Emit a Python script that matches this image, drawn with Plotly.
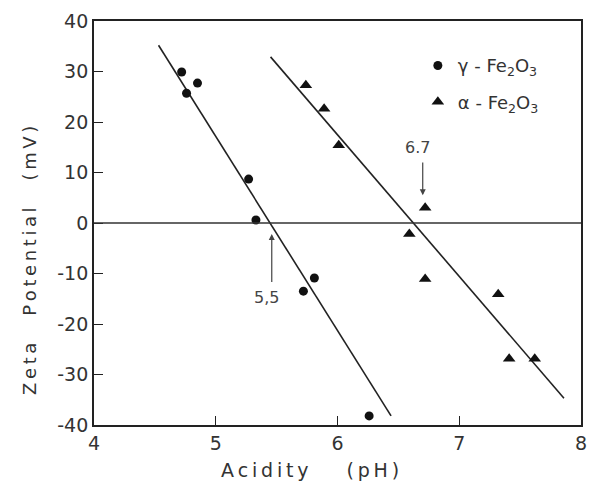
import plotly.graph_objects as go

# gamma-Fe2O3 measurements
gamma_ph = [4.72, 4.76, 4.85, 5.27, 5.33, 5.72, 5.81, 6.26]
gamma_zeta = [29.9, 25.7, 27.7, 8.7, 0.6, -13.5, -10.9, -38.2]

# alpha-Fe2O3 measurements
alpha_ph = [5.74, 5.89, 6.01, 6.59, 6.72, 6.72, 7.32, 7.41, 7.62]
alpha_zeta = [27.3, 22.6, 15.4, -2.2, 3.0, -11.1, -14.1, -26.9, -26.9]

# fitted trend lines (end points)
gamma_fit_ph = [4.53, 6.44]
gamma_fit_zeta = [35.2, -38.2]
alpha_fit_ph = [5.45, 7.86]
alpha_fit_zeta = [32.9, -34.7]

# isoelectric points
iep_gamma = 5.5
iep_alpha = 6.7

x_ticks = [4, 5, 6, 7, 8]
y_ticks = [-40, -30, -20, -10, 0, 10, 20, 30, 40]

ink = "#222222"
text_col = "#333333"
font_family = "DejaVu Sans, Liberation Sans, sans-serif"


def spaced(label, word_gap):
    """Open up the lettering with thin spaces, wider gaps between words."""
    words = label.split(" ")
    return word_gap.join("\u2009".join(w) for w in words)


fig = go.Figure()

fig.add_trace(go.Scatter(x=gamma_fit_ph, y=gamma_fit_zeta, mode="lines",
                         line=dict(color=ink, width=1.6), showlegend=False,
                         hoverinfo="skip"))
fig.add_trace(go.Scatter(x=alpha_fit_ph, y=alpha_fit_zeta, mode="lines",
                         line=dict(color=ink, width=1.6), showlegend=False,
                         hoverinfo="skip"))

fig.add_trace(go.Scatter(x=gamma_ph, y=gamma_zeta, mode="markers",
                         name="γ - Fe<sub>2</sub>O<sub>3</sub>", legendgroup="g",
                         marker=dict(symbol="circle", size=9, color="#111111")))
fig.add_trace(go.Scatter(x=alpha_ph, y=alpha_zeta, mode="markers",
                         name="α - Fe<sub>2</sub>O<sub>3</sub>", legendgroup="a",
                         marker=dict(symbol="triangle-up", size=11, color="#111111")))

# zero line
fig.add_shape(type="line", xref="x", yref="y", x0=4, x1=8, y0=0, y1=0,
              line=dict(color="#333333", width=1.5))

# isoelectric point labels with arrows
fig.add_annotation(x=iep_alpha, y=5.5, ax=iep_alpha, ay=12.3,
                   xref="x", yref="y", axref="x", ayref="y",
                   text="", showarrow=True, arrowhead=2, arrowsize=1,
                   arrowwidth=1.2, arrowcolor="#444444")
fig.add_annotation(x=iep_alpha - 0.04, y=12.6, xref="x", yref="y",
                   text=str(iep_alpha), showarrow=False, yanchor="bottom",
                   font=dict(size=16, color="#444444", family=font_family))
fig.add_annotation(x=iep_gamma - 0.04, y=-2.2, ax=iep_gamma - 0.04, ay=-12.0,
                   xref="x", yref="y", axref="x", ayref="y",
                   text="", showarrow=True, arrowhead=2, arrowsize=1,
                   arrowwidth=1.2, arrowcolor="#444444")
fig.add_annotation(x=iep_gamma - 0.08, y=-12.5, xref="x", yref="y",
                   text=str(iep_gamma).replace(".", ","), showarrow=False,
                   yanchor="top",
                   font=dict(size=16, color="#444444", family=font_family))

# axis titles
fig.add_annotation(x=0.444, y=-0.111, xref="paper", yref="paper",
                   text=spaced("Acidity (pH)", "\u2003\u2003"), showarrow=False,
                   xanchor="center", yanchor="middle",
                   font=dict(size=19, color=text_col, family=font_family))
fig.add_annotation(x=-0.134, y=0.408, xref="paper", yref="paper",
                   text=spaced("Zeta Potential (mV)", "\u2003\u2002"),
                   showarrow=False, textangle=-90,
                   xanchor="center", yanchor="middle",
                   font=dict(size=18, color=text_col, family=font_family))

axis_common = dict(showline=True, linecolor=ink, linewidth=1.8, mirror=True,
                   ticks="inside", ticklen=9, tickwidth=1.3, tickcolor=ink,
                   showgrid=False, zeroline=False,
                   tickfont=dict(size=19, color=text_col, family=font_family))

fig.update_xaxes(range=[4, 8], tickvals=x_ticks,
                 ticktext=[str(v) for v in x_ticks], **axis_common)
fig.update_yaxes(range=[-40, 40], tickvals=y_ticks,
                 ticktext=[str(v) for v in y_ticks], **axis_common)

fig.update_layout(
    width=592, height=494,
    margin=dict(l=94, r=5, t=21, b=69),
    paper_bgcolor="white", plot_bgcolor="white",
    showlegend=True,
    legend=dict(x=0.665, y=0.935, xanchor="left", yanchor="top",
                bgcolor="rgba(0,0,0,0)", tracegroupgap=10, itemwidth=30,
                font=dict(size=18, color=text_col, family=font_family)),
)

fig.write_html("out.html")
